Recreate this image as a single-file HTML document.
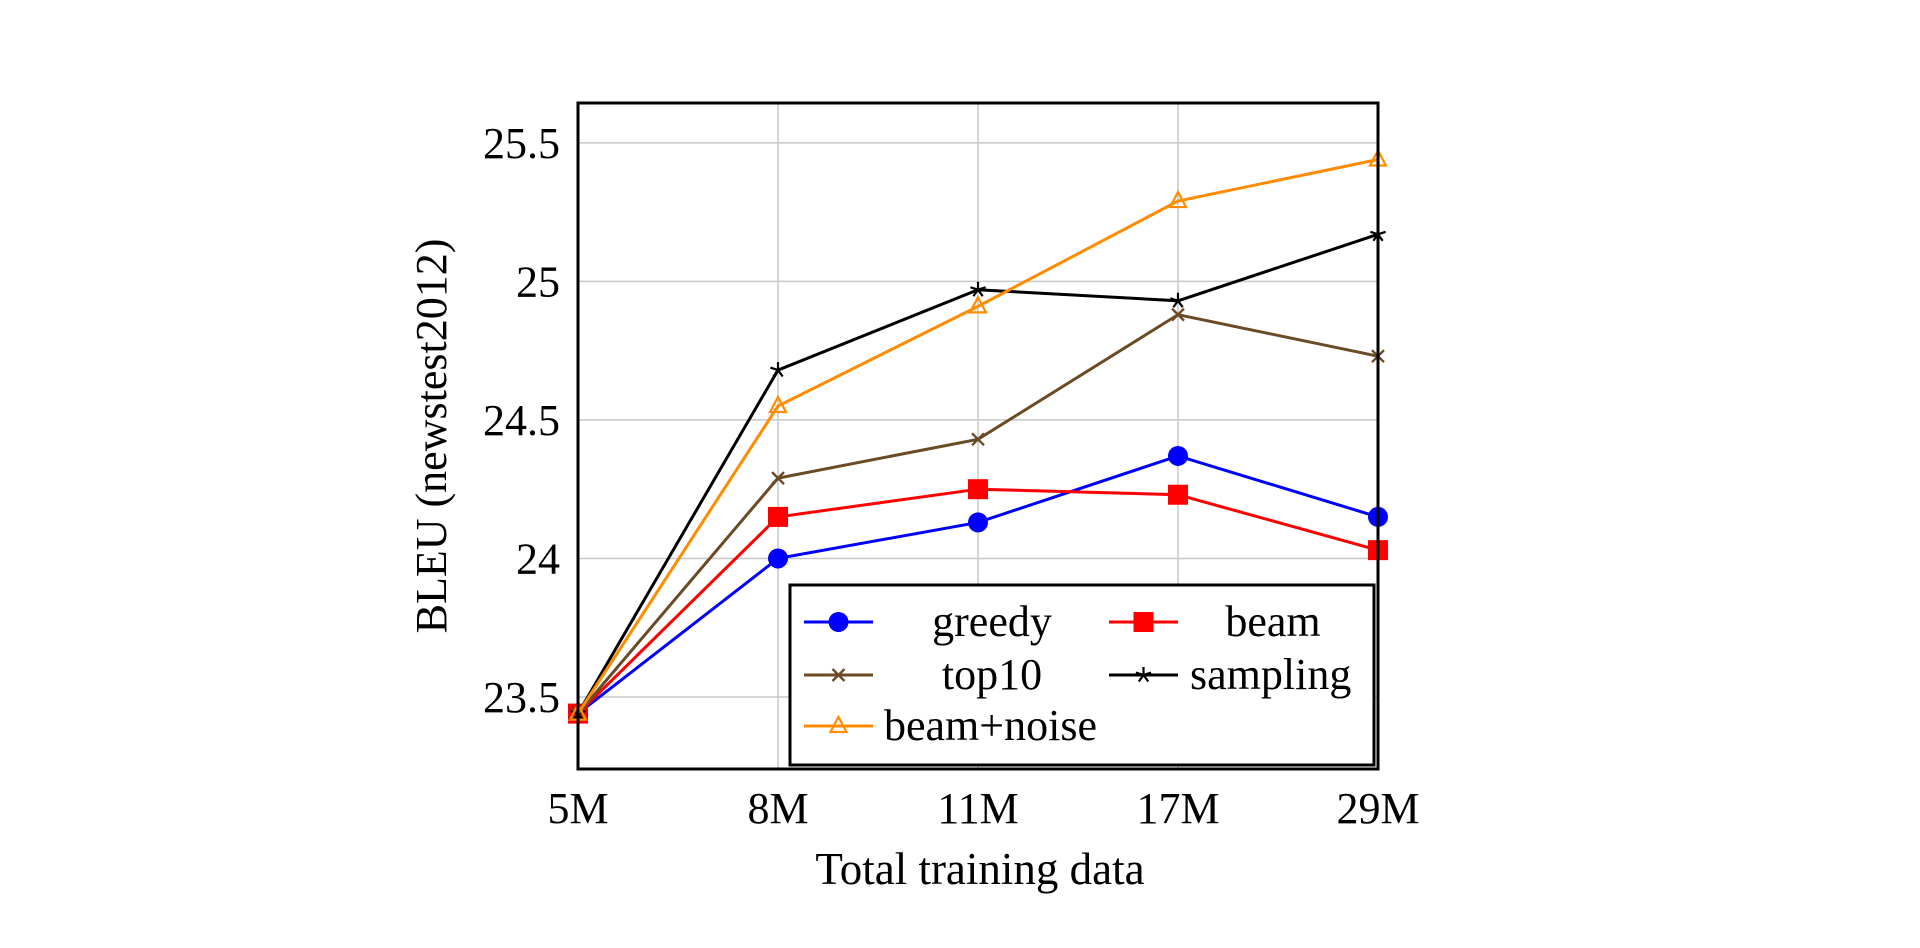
<!DOCTYPE html>
<html><head><meta charset="utf-8"><style>
html,body{margin:0;padding:0;background:#fff;}
svg{display:block;font-family:"Liberation Serif",serif;}
</style></head><body>
<svg id="chart" width="1920" height="948" viewBox="0 0 1920 948"></svg>
<script>
const categories = ["5M","8M","11M","17M","29M"];
const yTicks = [23.5, 24, 24.5, 25, 25.5];
const yTickLabels = ["23.5","24","24.5","25","25.5"];
const greedy = [23.44, 24.0, 24.13, 24.37, 24.15];
const beam = [23.44, 24.15, 24.25, 24.23, 24.03];
const top10 = [23.44, 24.29, 24.43, 24.88, 24.73];
const sampling = [23.44, 24.68, 24.97, 24.93, 25.17];
const beamNoise = [23.44, 24.55, 24.91, 25.29, 25.44];

const NS = "http://www.w3.org/2000/svg";
const svg = document.getElementById("chart");
const L = 578, R = 1378, T = 103, B = 769;
const yMin = 23.24, yMax = 25.644;
const FS = 44;
function xs(i){ return L + i * (R - L) / (categories.length - 1); }
function ys(v){ return B - (v - yMin) / (yMax - yMin) * (B - T); }
function mk(tag, attrs, parent){ const e = document.createElementNS(NS, tag); for (const k in attrs) e.setAttribute(k, attrs[k]); (parent||svg).appendChild(e); return e; }

const grid = mk("g", {});


categories.forEach((c,i)=>{ mk("line",{x1:xs(i),x2:xs(i),y1:T,y2:B,stroke:"#c8c8c8","stroke-width":1.5},grid); });
yTicks.forEach(v=>{ mk("line",{x1:L,x2:R,y1:ys(v),y2:ys(v),stroke:"#c8c8c8","stroke-width":1.5},grid); });

categories.forEach((c,i)=>{
  const t = mk("text",{x:xs(i),y:B+54,"text-anchor":"middle","font-size":FS,fill:"#000"});
  t.textContent = c;
  
  
});
yTicks.forEach((v,i)=>{
  const t = mk("text",{x:L-18,y:ys(v)+15,"text-anchor":"end","font-size":FS,fill:"#000"});
  t.textContent = yTickLabels[i];
  
  
});

function marker(type, x, y, color, parent){
  if (type==="circle") mk("circle",{cx:x,cy:y,r:10,fill:color},parent);
  else if (type==="square") mk("rect",{x:x-10,y:y-10,width:20,height:20,fill:color},parent);
  else if (type==="x"){ mk("path",{d:`M${x-6} ${y-6}L${x+6} ${y+6}M${x-6} ${y+6}L${x+6} ${y-6}`,stroke:color,"stroke-width":2.4},parent); }
  else if (type==="star"){ let d=""; for(let k=0;k<5;k++){const a=-Math.PI/2+k*2*Math.PI/5; d+=`M${x} ${y}L${x+8*Math.cos(a)} ${y+8*Math.sin(a)}`;} mk("path",{d:d,stroke:color,"stroke-width":2.2},parent); }
  else if (type==="tri"){ mk("path",{d:`M${x} ${y-9}L${x+8} ${y+6}L${x-8} ${y+6}Z`,fill:"none",stroke:color,"stroke-width":2.2},parent); }
}

const series = [
  {name:"greedy", data:greedy, color:"#0000ff", m:"circle"},
  {name:"beam", data:beam, color:"#ff0000", m:"square"},
  {name:"top10", data:top10, color:"#6b4a26", m:"x"},
  {name:"sampling", data:sampling, color:"#000000", m:"star"},
  {name:"beam+noise", data:beamNoise, color:"#ff8c00", m:"tri"}
];
series.forEach(s=>{
  const g = mk("g",{});
  
  
  mk("polyline",{points:s.data.map((v,i)=>xs(i)+","+ys(v)).join(" "),fill:"none",stroke:s.color,"stroke-width":3},g);
  s.data.forEach((v,i)=>marker(s.m, xs(i), ys(v), s.color, g));
});

const frame = mk("rect",{x:L,y:T,width:R-L,height:B-T,fill:"none",stroke:"#000","stroke-width":3});



const lg = mk("g",{});


mk("rect",{x:790,y:585,width:584,height:180,fill:"#fff",stroke:"#000","stroke-width":3},lg);
const entries = [
  {s:0,lx:804,ly:622,tx:992,anchor:"middle"},
  {s:1,lx:1109,ly:622,tx:1273,anchor:"middle"},
  {s:2,lx:804,ly:675,tx:992,anchor:"middle"},
  {s:3,lx:1109,ly:675,tx:1190,anchor:"start"},
  {s:4,lx:804,ly:726,tx:884,anchor:"start"}
];
entries.forEach(e=>{
  const s = series[e.s];
  const g = mk("g",{},lg);
  
  
  mk("line",{x1:e.lx,x2:e.lx+69,y1:e.ly,y2:e.ly,stroke:s.color,"stroke-width":3},g);
  marker(s.m, e.lx+34.5, e.ly, s.color, g);
  const t = mk("text",{x:e.tx,y:e.ly+14,"text-anchor":e.anchor,"font-size":FS,fill:"#000"},g);
  t.textContent = s.name;
});

const xt = mk("text",{x:980,y:884,"text-anchor":"middle","font-size":45,fill:"#000"});
xt.textContent = "Total training data";


const yt = mk("text",{x:0,y:0,"text-anchor":"middle","font-size":44,fill:"#000",transform:"translate(446,436) rotate(-90)"});
yt.textContent = "BLEU (newstest2012)";


</script>
</body></html>
